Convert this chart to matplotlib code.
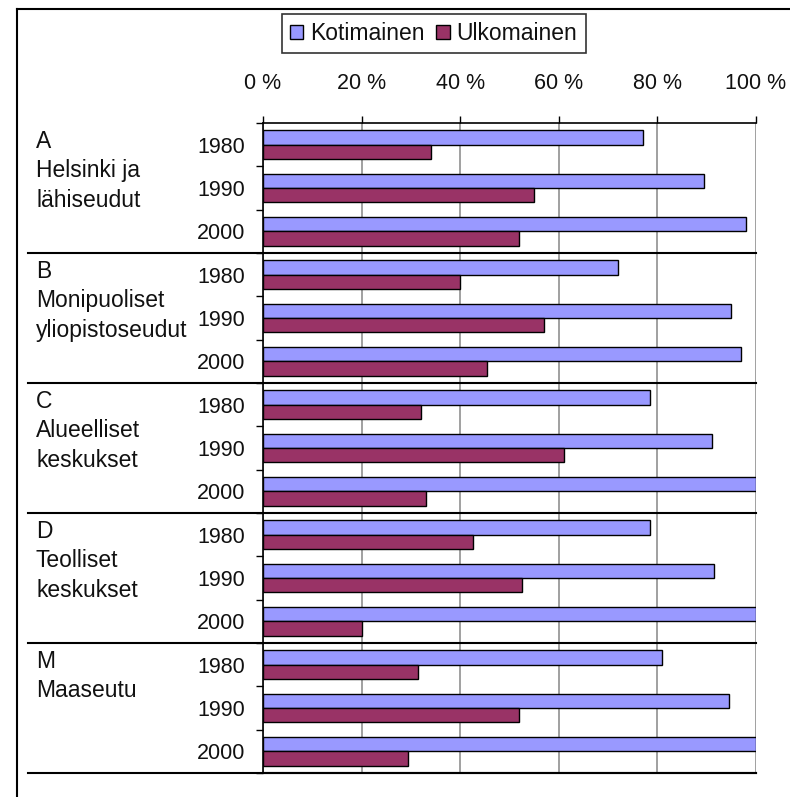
"""
  Kotimainen / ulkomainen osuus aluetyypeittäin 1980-2000
"""
import numpy as np
import matplotlib
matplotlib.use('Agg')
import matplotlib.pyplot as plt
from matplotlib.transforms import blended_transform_factory
from matplotlib.patches import Patch

plt.rcParams['font.family'] = ['Liberation Sans', 'DejaVu Sans']

regions = [['A', 'Helsinki ja', 'lähiseudut'],
           ['B', 'Monipuoliset', 'yliopistoseudut'],
           ['C', 'Alueelliset', 'keskukset'],
           ['D', 'Teolliset', 'keskukset'],
           ['M', 'Maaseutu']]
years = ['1980', '1990', '2000']
kotimainen = [77, 89.5, 98,
              72, 95, 97,
              78.5, 91, 100,
              78.5, 91.5, 100,
              81, 94.5, 100]
ulkomainen = [34, 55, 52,
              40, 57, 45.5,
              32, 61, 33,
              42.5, 52.5, 20,
              31.5, 52, 29.5]
x_ticks = [0, 20, 40, 60, 80, 100]
x_labels = ['0 %', '20 %', '40 %', '60 %', '80 %', '100 %']

col_k = '#9999ff'
col_u = '#993366'
txt = '#111111'

fig = plt.figure(figsize=(7.9, 7.97), dpi=100)
ax = fig.add_axes([263 / 790, 1 - 773 / 797, (756 - 263) / 790, (773 - 123) / 797])

n = len(kotimainen)
pos = np.arange(n)
h = 0.33
ax.barh(pos - 0.165, kotimainen, height=h, color=col_k, edgecolor='black', linewidth=1.0, zorder=3)
ax.barh(pos + 0.165, ulkomainen, height=h, color=col_u, edgecolor='black', linewidth=1.0, zorder=3)

ax.set_xlim(0, 100)
ax.set_ylim(n - 0.5, -0.5)

# x axis on top
ax.xaxis.tick_top()
ax.set_xticks(x_ticks)
ax.set_xticklabels(x_labels, fontsize=15.5, color=txt)
ax.tick_params(axis='x', direction='out', length=5, width=1.0, pad=16, colors='black', labelcolor=txt)
ax.grid(axis='x', color='#999999', linewidth=1.3, zorder=0)

# years as labels, ticks between categories
ax.set_yticks(pos)
ax.set_yticklabels(years * len(regions), fontsize=15.5, color=txt)
ax.tick_params(axis='y', which='major', length=0, pad=13)
ax.set_yticks(np.arange(n + 1) - 0.5, minor=True)
ax.tick_params(axis='y', which='minor', direction='out', length=5, width=1.0)

for side in ['right']:
    ax.spines[side].set_visible(False)
ax.spines['top'].set_linewidth(1.2)
ax.spines['left'].set_linewidth(1.2)
ax.spines['bottom'].set_linewidth(1.5)

# region names and separators
trans = blended_transform_factory(fig.transFigure, ax.transData)
x_sep0 = 28 / 790
x_sep1 = 756 / 790
for k, lines in enumerate(regions):
    top = 3 * k - 0.5
    for j, line in enumerate(lines):
        ax.text(36 / 790, top + 0.42 + 0.68 * j, line, transform=trans, fontsize=16.5,
                color=txt, ha='left', va='center')
    if k > 0:
        ax.plot([x_sep0, x_sep1], [top, top], transform=trans, color='black',
                linewidth=1.5, clip_on=False, zorder=4)
ax.plot([x_sep0, x_sep1], [n - 0.5, n - 0.5], transform=trans, color='black',
        linewidth=1.5, clip_on=False, zorder=4)

# outer frame (left and top edges)
fig.add_artist(plt.Line2D([17 / 790, 17 / 790], [0, 1 - 9 / 797], transform=fig.transFigure,
                          color='black', linewidth=1.5))
fig.add_artist(plt.Line2D([17 / 790, 1], [1 - 9 / 797, 1 - 9 / 797], transform=fig.transFigure,
                          color='black', linewidth=1.5))

handles = [Patch(facecolor=col_k, edgecolor='black', linewidth=1.0, label='Kotimainen'),
           Patch(facecolor=col_u, edgecolor='black', linewidth=1.0, label='Ulkomainen')]
leg = fig.legend(handles=handles, loc='center', bbox_to_anchor=(433.5 / 790, 1 - 33.5 / 797),
                 ncol=2, fontsize=16.5, frameon=True, fancybox=False, handlelength=0.6,
                 handleheight=0.6, handletextpad=0.3, columnspacing=0.5, borderpad=0.35,
                 borderaxespad=0)
leg.get_frame().set_edgecolor('black')
leg.get_frame().set_linewidth(1.2)
for t in leg.get_texts():
    t.set_color(txt)

fig.savefig('out.png', dpi=100)
